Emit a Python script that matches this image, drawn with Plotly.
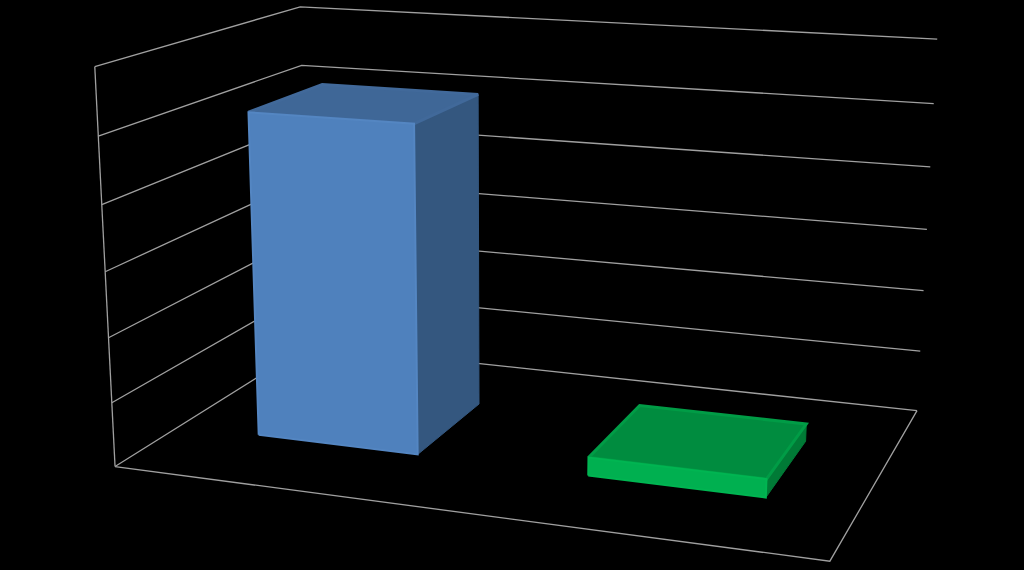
import numpy as np
import plotly.graph_objects as go

categories = ["A", "B"]
values = [5.08, 0.28]
tick_values = [0, 1, 2, 3, 4, 5, 6]
bar_colors = [
    dict(front="#4f81bd", top="#3f6797", side="#34577f", rim="#5486c2", top_rim="#41699a"),
    dict(front="#00b050", top="#008c3f", side="#007a36", rim="#00b552", top_rim="#009c46"),
]

# camera calibration: box corner (x, depth, value/6) -> page pixel
anchors_world = np.array([[0,0,0],[0,0,1],[0,1,1],[1,1,1],[1,1,0],[1,0,0],
                          [0,0,5/6],[0,1,5/6],[1,1,5/6],[0,0,.5],[1,1,.5],
                          [1,1,1/6],[0,0,1/6]], float)
anchors_page = np.array([[115,467],[95,67],[300,7],[937,39],[917,410],[830,561],
                         [98,137],[302,65],[934,103],[105,270],[927,230],
                         [920,352],[112,403]], float)

A = []
for (x, y, z), (u, v) in zip(anchors_world, anchors_page):
    u, v = (u - 512) / 500, (v - 285) / 500
    A.append([x, y, z, 1, 0, 0, 0, 0, -u*x, -u*y, -u*z, -u])
    A.append([0, 0, 0, 0, x, y, z, 1, -v*x, -v*y, -v*z, -v])
P = np.linalg.svd(np.array(A))[2][-1].reshape(3, 4)
P = np.array([[500, 0, 512], [0, 500, 285], [0, 0, 1]]) @ P


def proj(x, y, z):
    q = P @ np.array([x, y, z / tick_values[-1], 1.0])
    return q[0] / q[2], q[1] / q[2]


def poly(fig, pts, fill, line=None, width=1.0):
    xs = [p[0] for p in pts]
    ys = [p[1] for p in pts]
    fig.add_trace(go.Scatter(x=xs, y=ys, mode="lines", fill="toself" if fill else None,
                             fillcolor=fill, line=dict(color=line or fill, width=width),
                             hoverinfo="skip", showlegend=False))


fig = go.Figure()
grid = "#a0a0a0"
for t in tick_values:
    poly(fig, [proj(0, 0, t), proj(0, 1, t), proj(1, 1, t)], None, grid, 1.3)
poly(fig, [proj(0, 0, 0), proj(1, 0, 0), proj(1, 1, 0)], None, grid, 1.3)
poly(fig, [proj(0, 0, 0), proj(0, 0, tick_values[-1])], None, grid, 1.3)

bar_w = 0.248
y0, y1 = 0.303, 0.69
for i, v in enumerate(values):
    c = bar_colors[i]
    x0 = (i + 0.5) / len(categories) - bar_w / 2
    x1 = x0 + bar_w
    poly(fig, [proj(x1, y0, 0), proj(x1, y1, 0), proj(x1, y1, v), proj(x1, y0, v), proj(x1, y0, 0)], c["side"])
    poly(fig, [proj(x0, y0, v), proj(x1, y0, v), proj(x1, y1, v), proj(x0, y1, v), proj(x0, y0, v)], c["top"], c["top_rim"], 3)
    poly(fig, [proj(x0, y0, 0), proj(x1, y0, 0), proj(x1, y0, v), proj(x0, y0, v), proj(x0, y0, 0)], c["front"], c["rim"], 2)

fig.update_layout(width=1024, height=570, margin=dict(l=0, r=0, t=0, b=0),
                  paper_bgcolor="#000", plot_bgcolor="#000", showlegend=False)
fig.update_xaxes(range=[0, 1024], visible=False)
fig.update_yaxes(range=[570, 0], visible=False)
fig.write_html("out.html", config=dict(displayModeBar=False),
               post_script="document.body.style.margin='0';document.body.style.background='#000';")
